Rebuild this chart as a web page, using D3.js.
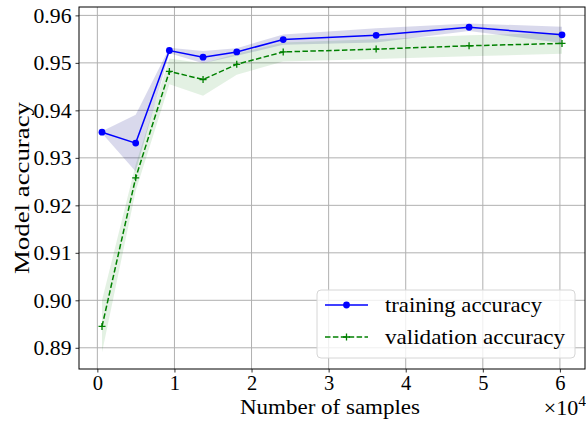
<!DOCTYPE html>
<html>
<head>
<meta charset="utf-8">
<script src="https://cdn.jsdelivr.net/npm/d3@7"></script>
<style>
  html, body { margin: 0; padding: 0; background: #fff; }
  svg { display: block; }
  text { font-family: "Liberation Serif", "DejaVu Serif", serif; fill: #000; }
</style>
</head>
<body>
<svg id="chart" width="586" height="423"></svg>
<script>
// Learning curve: training sizes and mean / std of accuracy across folds
const trainSizes = [603, 4972, 9342, 13711, 18081, 24108, 36162, 48216, 60270];
const trainMean  = [0.9354, 0.9331, 0.9526, 0.9512, 0.9523, 0.9549, 0.9558, 0.9575, 0.9559];
const trainStd   = [0.0002, 0.0060, 0.0006, 0.0013, 0.0008, 0.0011, 0.0015, 0.0008, 0.0017];
const validMean  = [0.8945, 0.9258, 0.9482, 0.9465, 0.9497, 0.9523, 0.9529, 0.9536, 0.9541];
const validStd   = [0.0055, 0.0028, 0.0027, 0.0034, 0.0022, 0.0020, 0.0021, 0.0022, 0.0022];
const xTicks = [0, 10000, 20000, 30000, 40000, 50000, 60000];
const yTicks = [0.89, 0.90, 0.91, 0.92, 0.93, 0.94, 0.95, 0.96];
const seriesNames = ["training accuracy", "validation accuracy"];

const svg = d3.select("#chart");
const plot = { left: 79, right: 585, top: 7, bottom: 369 };

// axis limits: data extent (bands included) padded by 5% on each side
function padded(lo, hi) { const m = (hi - lo) * 0.05; return [lo - m, hi + m]; }
const xDom = padded(d3.min(trainSizes), d3.max(trainSizes));
const yLo = d3.min(validMean.map((v, i) => v - validStd[i]).concat(trainMean.map((v, i) => v - trainStd[i])));
const yHi = d3.max(validMean.map((v, i) => v + validStd[i]).concat(trainMean.map((v, i) => v + trainStd[i])));
const yDom = padded(yLo, yHi);

const x = d3.scaleLinear().domain(xDom).range([plot.left, plot.right]);
const y = d3.scaleLinear().domain(yDom).range([plot.bottom, plot.top]);

const train = trainSizes.map((s, i) => ({ s, m: trainMean[i], d: trainStd[i] }));
const valid = trainSizes.map((s, i) => ({ s, m: validMean[i], d: validStd[i] }));

// grid
const grid = svg.append("g").attr("stroke", "#b0b0b0").attr("stroke-width", 1);
xTicks.forEach(t => grid.append("line")
  .attr("x1", x(t)).attr("x2", x(t)).attr("y1", plot.top).attr("y2", plot.bottom));
yTicks.forEach(t => grid.append("line")
  .attr("x1", plot.left).attr("x2", plot.right).attr("y1", y(t)).attr("y2", y(t)));

// std bands
const band = d3.area().x(d => x(d.s)).y0(d => y(d.m - d.d)).y1(d => y(d.m + d.d));
svg.append("path").datum(train).attr("d", band)
  .attr("fill", "#000080").attr("fill-opacity", 0.15);
svg.append("path").datum(valid).attr("d", band)
  .attr("fill", "#008000").attr("fill-opacity", 0.11);

// mean lines
const line = d3.line().x(d => x(d.s)).y(d => y(d.m));
svg.append("path").datum(train).attr("d", line)
  .attr("fill", "none").attr("stroke", "#0000ff").attr("stroke-width", 1.5);
svg.append("path").datum(valid).attr("d", line)
  .attr("fill", "none").attr("stroke", "#008000").attr("stroke-width", 1.5)
  .attr("stroke-dasharray", "5.5,2.4");

// markers
svg.append("g").selectAll("circle").data(train).join("circle")
  .attr("cx", d => x(d.s)).attr("cy", d => y(d.m)).attr("r", 3.4)
  .attr("fill", "#0000ff");
const plus = (g, cx, cy, r) => g.append("path")
  .attr("d", `M${cx - r},${cy}H${cx + r}M${cx},${cy - r}V${cy + r}`)
  .attr("stroke", "#008000").attr("stroke-width", 1.3).attr("fill", "none");
const pg = svg.append("g");
valid.forEach(d => plus(pg, x(d.s), y(d.m), 3.5));

// axes
const fmtX = d => d3.format("d")(d / 10000);
const xAxis = svg.append("g").attr("transform", `translate(0,${plot.bottom})`)
  .call(d3.axisBottom(x).tickValues(xTicks).tickFormat(fmtX).tickSize(3.5).tickPadding(3.5));
const yAxis = svg.append("g").attr("transform", `translate(${plot.left},0)`)
  .call(d3.axisLeft(y).tickValues(yTicks).tickFormat(d3.format(".2f")).tickSize(3.5).tickPadding(4));
[xAxis, yAxis].forEach(a => {
  a.select(".domain").remove();
  a.selectAll(".tick line").attr("stroke", "#000").attr("stroke-width", 0.8);
  a.selectAll("text").attr("font-size", 20.5).attr("font-family", null);
});
xAxis.selectAll("text").attr("dy", "0.68em");
yAxis.selectAll("text").attr("font-size", 21.5)
  .attr("textLength", 38).attr("lengthAdjust", "spacingAndGlyphs");

// frame
svg.append("rect").attr("x", plot.left).attr("y", plot.top)
  .attr("width", plot.right - plot.left).attr("height", plot.bottom - plot.top)
  .attr("fill", "none").attr("stroke", "#000").attr("stroke-width", 1);

// axis labels
svg.append("text").attr("x", 240).attr("y", 414)
  .attr("font-size", 21.5).attr("textLength", 180).attr("lengthAdjust", "spacingAndGlyphs")
  .text("Number of samples");
svg.append("text")
  .attr("transform", `translate(29,${(plot.top + plot.bottom) / 2}) rotate(-90)`)
  .attr("text-anchor", "middle").attr("font-size", 22)
  .attr("textLength", 172).attr("lengthAdjust", "spacingAndGlyphs").text("Model accuracy");

// offset text
const off = svg.append("text").attr("x", 586).attr("y", 415).attr("text-anchor", "end").attr("font-size", 22);
off.append("tspan").text("\u00d710");
off.append("tspan").attr("dy", -9).attr("font-size", 15.5).text("4");

// legend
const lg = svg.append("g");
lg.append("rect").attr("x", 317).attr("y", 290).attr("width", 258).attr("height", 68)
  .attr("rx", 4).attr("fill", "#fff").attr("fill-opacity", 0.8)
  .attr("stroke", "#d6d6d6").attr("stroke-width", 1);
const rows = [305, 337];
const textLen = [157, 180];
lg.append("line").attr("x1", 325).attr("x2", 368).attr("y1", rows[0]).attr("y2", rows[0])
  .attr("stroke", "#0000ff").attr("stroke-width", 1.5);
lg.append("circle").attr("cx", 346.5).attr("cy", rows[0]).attr("r", 3.4).attr("fill", "#0000ff");
lg.append("line").attr("x1", 325).attr("x2", 368).attr("y1", rows[1]).attr("y2", rows[1])
  .attr("stroke", "#008000").attr("stroke-width", 1.5).attr("stroke-dasharray", "5.5,2.4");
plus(lg, 346.5, rows[1], 3.5);
seriesNames.forEach((n, i) => lg.append("text").attr("x", 385).attr("y", rows[i] + 7)
  .attr("font-size", 22).attr("textLength", textLen[i]).attr("lengthAdjust", "spacingAndGlyphs").text(n));
</script>
</body>
</html>
